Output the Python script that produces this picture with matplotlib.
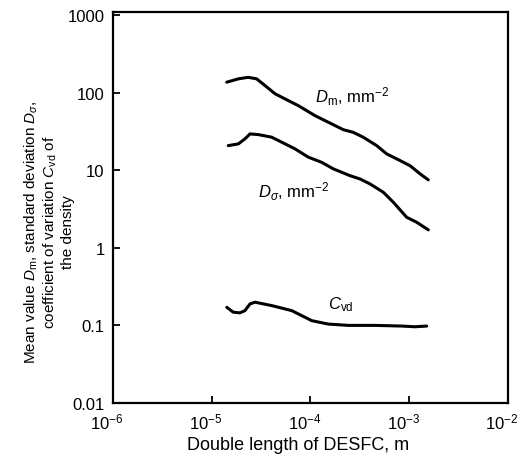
import numpy as np
import matplotlib.pyplot as plt
from matplotlib.ticker import FixedLocator, NullLocator
from matplotlib.transforms import ScaledTranslation

plt.rcParams['font.family'] = ['Liberation Sans', 'DejaVu Sans']
plt.rcParams['mathtext.fontset'] = 'custom'
plt.rcParams['mathtext.rm'] = 'Liberation Sans'
plt.rcParams['mathtext.it'] = 'Liberation Sans:italic'

# Mean value of density D_m, mm^-2
dm_x = [1.42e-5, 1.86e-5, 2.34e-5, 2.85e-5, 3.46e-5, 4.37e-5, 5.11e-5, 7.52e-5, 1.11e-4, 1.64e-4,
        2.15e-4, 2.71e-4, 3.43e-4, 4.68e-4, 5.91e-4, 8.06e-4, 1.02e-3, 1.29e-3, 1.56e-3]
dm_y = [136, 150, 157, 150, 123, 96.5, 87, 67.8, 50.4, 39.4,
        33.2, 30.7, 26.5, 20.7, 16.2, 13.3, 11.4, 8.93, 7.5]

# Standard deviation D_sigma, mm^-2
ds_x = [1.47e-5, 1.86e-5, 2.17e-5, 2.44e-5, 2.96e-5, 4.04e-5, 5.11e-5, 6.97e-5, 9.5e-5, 1.30e-4,
        1.70e-4, 2.51e-4, 3.17e-4, 4.01e-4, 5.46e-4, 6.9e-4, 9.42e-4, 1.19e-3, 1.56e-3]
ds_y = [20.7, 21.8, 25.3, 29.3, 28.7, 26.6, 22.9, 18.8, 14.7, 12.6,
        10.4, 8.49, 7.7, 6.64, 5.19, 3.86, 2.47, 2.13, 1.7]

# Coefficient of variation C_vd
cv_x = [1.42e-5, 1.65e-5, 1.93e-5, 2.17e-5, 2.44e-5, 2.74e-5, 4.04e-5, 6.45e-5, 1.03e-4, 1.51e-4,
        2.42e-4, 4.5e-4, 8.4e-4, 1.14e-3, 1.5e-3]
cv_y = [0.171, 0.148, 0.145, 0.155, 0.189, 0.199, 0.18, 0.155, 0.115, 0.104,
        0.1, 0.1, 0.098, 0.096, 0.098]

x_ticks = [1e-6, 1e-5, 1e-4, 1e-3, 1e-2]
x_labels = ['$10^{-6}$', '$10^{-5}$', '$10^{-4}$', '$10^{-3}$', '$10^{-2}$']
y_ticks = [0.01, 0.1, 1, 10, 100, 1000]
y_labels = ['0.01', '0.1', '1', '10', '100', '1000']

fig = plt.figure(figsize=(5.23, 4.64), dpi=100)
ax = fig.add_axes([113 / 523, 1 - 404 / 464, 395 / 523, 391 / 464])

for xs, ys in [(dm_x, dm_y), (ds_x, ds_y), (cv_x, cv_y)]:
    ax.plot(xs, ys, color='black', linewidth=2.2, solid_capstyle='round',
            solid_joinstyle='round')

ax.set_xscale('log')
ax.set_yscale('log')
ax.set_xlim(1e-6, 1e-2)
ax.set_ylim(0.01, 1090)

ax.xaxis.set_major_locator(FixedLocator(x_ticks))
ax.xaxis.set_minor_locator(NullLocator())
ax.yaxis.set_major_locator(FixedLocator(y_ticks))
ax.yaxis.set_minor_locator(NullLocator())
ax.set_xticklabels(x_labels, fontsize=12)
ax.set_yticklabels(y_labels, fontsize=12)
ax.tick_params(direction='in', length=5, width=1.3, pad=6)

# the scanned labels sit a little left of their ticks
shift = ScaledTranslation(-6 / 100, 0, fig.dpi_scale_trans)
for lab in ax.get_xticklabels():
    lab.set_transform(lab.get_transform() + shift)

for sp in ax.spines.values():
    sp.set_linewidth(1.6)

ax.text(2.63e-4, 90, r'$\mathit{D}_{\rm m}$, mm$^{-2}$', fontsize=12, ha='center', va='center')
ax.text(6.8e-5, 5.4, r'$\mathit{D}_{\sigma}$, mm$^{-2}$', fontsize=12, ha='center', va='center')
ax.text(2.04e-4, 0.189, r'$\mathit{C}_{\rm vd}$', fontsize=12, ha='center', va='center')

ax.set_xlabel('Double length of DESFC, m', fontsize=13)
ax.xaxis.set_label_coords(0.468, -0.085)
ax.set_ylabel('Mean value $\\mathit{D}_{\\rm m}$, standard deviation $\\mathit{D}_{\\sigma}$,\n'
              'coefficient of variation $\\mathit{C}_{\\rm vd}$ of\nthe density',
              fontsize=11, linespacing=1.15)
ax.yaxis.set_label_coords(-0.097, 0.44)

fig.savefig('out.png', dpi=100, facecolor='white')
